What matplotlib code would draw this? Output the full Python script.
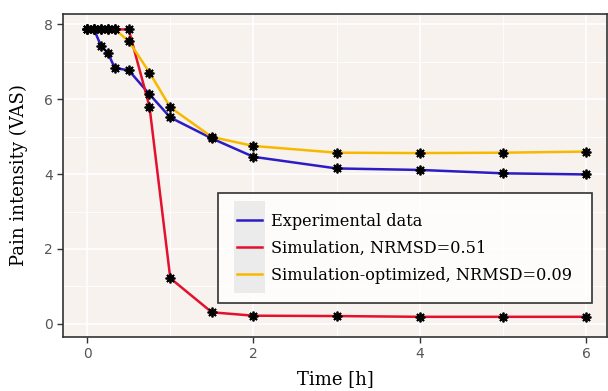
import matplotlib.pyplot as plt
import numpy as np
from matplotlib.legend_handler import HandlerLine2D
from matplotlib.patches import Rectangle

t = [0, 0.083, 0.167, 0.25, 0.333, 0.5, 0.75, 1, 1.5, 2, 3, 4, 5, 6]
experimental = [7.86, 7.86, 7.42, 7.23, 6.83, 6.77, 6.13, 5.51, 4.95, 4.46, 4.15, 4.11, 4.02, 3.99]
simulation = [7.86, 7.86, 7.86, 7.86, 7.86, 7.86, 5.8, 1.22, 0.31, 0.22, 0.21, 0.19, 0.19, 0.19]
optimized = [7.86, 7.86, 7.86, 7.86, 7.86, 7.55, 6.71, 5.78, 4.99, 4.75, 4.57, 4.56, 4.57, 4.6]

labels = ["Experimental data", "Simulation, NRMSD=0.51", "Simulation-optimized, NRMSD=0.09"]
colors = ["#2b1cc4", "#e3102e", "#f7b900"]

leg_size = 11.6
leg_spacing = 0.62


# legend key with grey background, like ggplot
class KeyHandler(HandlerLine2D):
    def create_artists(self, legend, orig_handle, xdescent, ydescent, width, height, fontsize, trans):
        arts = super().create_artists(legend, orig_handle, xdescent, ydescent, width, height, fontsize, trans)
        ext = 9.5
        bg = Rectangle((-xdescent - 2.2, -ydescent - ext), width + 4.4, height + 2 * ext,
                       facecolor="#ebebeb", edgecolor="none", transform=trans)
        return [bg] + list(arts)


fig = plt.figure(figsize=(6.08, 3.91), dpi=100)
ax = fig.add_axes([0.1036, 0.138, 0.8947, 0.826])
ax.set_facecolor("#f7f2ee")

for x in [0, 2, 4, 6]:
    ax.axvline(x, color="white", lw=1.1, zorder=0)
for x in [1, 3, 5]:
    ax.axvline(x, color="white", lw=0.6, zorder=0)
for y in [0, 2, 4, 6, 8]:
    ax.axhline(y, color="white", lw=1.1, zorder=0)
for y in [1, 3, 5, 7]:
    ax.axhline(y, color="white", lw=0.6, zorder=0)

series = [experimental, simulation, optimized]
for ys, c, lab in zip(series, colors, labels):
    ax.plot(t, ys, color=c, lw=1.8, label=lab, zorder=2)
for ys in series:
    ax.plot(t, ys, ls="none", marker=(8, 2, 0), ms=7, mec="black", mew=1.3, zorder=3)

ax.set_xlim(-0.29, 6.25)
ax.set_ylim(-0.35, 8.27)
ax.set_xticks([0, 2, 4, 6])
ax.set_yticks([0, 2, 4, 6, 8])
ax.tick_params(colors="#333333", labelcolor="#555555", labelsize=10, length=4, width=1)
for s in ax.spines.values():
    s.set_color("#333333")
    s.set_linewidth(1.2)

ax.set_xlabel("Time [h]", family="DejaVu Serif", fontsize=13, labelpad=6)
ax.set_ylabel("Pain intensity (VAS)", family="DejaVu Serif", fontsize=13, labelpad=11)

leg = ax.legend(loc="lower left", bbox_to_anchor=(0.2845, 0.104), prop={"family": "DejaVu Serif", "size": leg_size},
                frameon=True, fancybox=False, edgecolor="black", handlelength=1.5,
                labelspacing=leg_spacing, borderpad=1.22, handletextpad=0.6, borderaxespad=0,
                handler_map={plt.Line2D: KeyHandler()})
leg.get_frame().set_linewidth(1.2)

plt.savefig("out.png", dpi=100)
